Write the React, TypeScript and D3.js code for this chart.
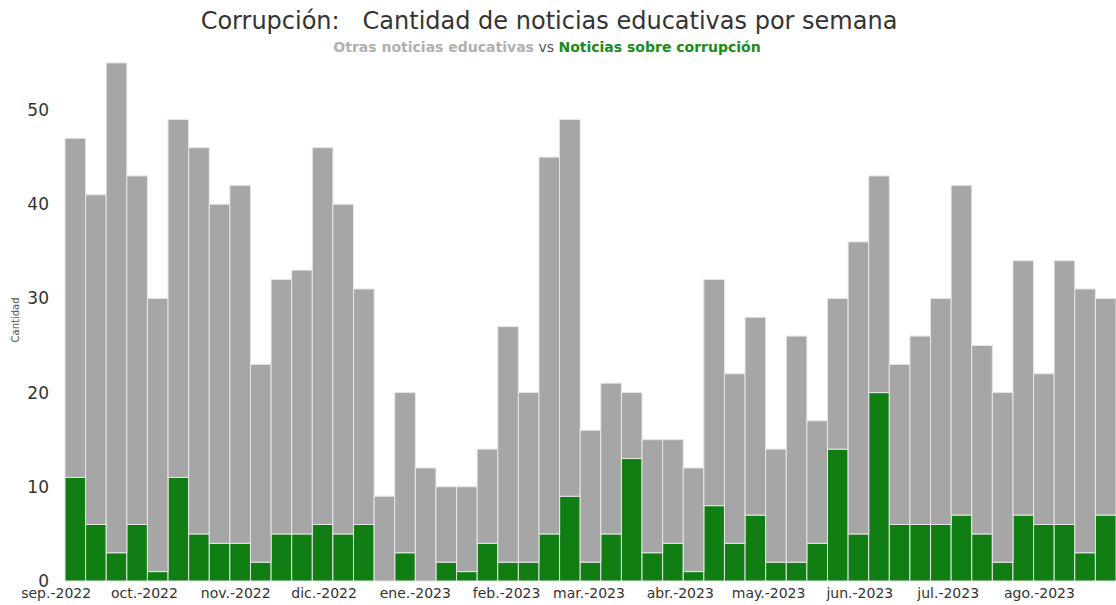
import React from "react";
import * as d3 from "d3";

const firstWeek = new Date(2022, 8, 4);
const weeks: Date[] = d3.timeWeek.range(firstWeek, new Date(2023, 7, 21));
const corrupcion = [11,6,3,6,1,11,5,4,4,2,5,5,6,5,6,0,3,0,2,1,4,2,2,5,9,2,5,13,3,4,1,8,4,7,2,2,4,14,5,20,6,6,6,7,5,2,7,6,6,3,7];
const otras = [36,35,52,37,29,38,41,36,38,21,27,28,40,35,25,9,17,12,8,9,10,25,18,40,40,14,16,7,12,11,11,24,18,21,12,24,13,16,31,23,17,20,24,35,20,18,27,16,28,28,23];
const yTicks = [0, 10, 20, 30, 40, 50];
const monthNames = ["ene.","feb.","mar.","abr.","may.","jun.","jul.","ago.","sep.","oct.","nov.","dic."];
const monthTicks: Date[] = d3.timeMonth.range(new Date(2022, 8, 1), new Date(2023, 8, 1));

const W = 1116, H = 605;
const FONT = "'DejaVu Sans', 'Open Sans', sans-serif";
const GRAY = "#a6a6a6";
const GREEN = "#117e13";

export default function App() {
  const rows = weeks.map((d, i) => ({ date: d, corrupcion: corrupcion[i], otras: otras[i] }));
  const x = d3.scaleTime()
    .domain([firstWeek, d3.timeWeek.offset(weeks[weeks.length - 1], 1)])
    .range([65, 1116]);
  const y = d3.scaleLinear().domain([0, 50]).range([581, 110]);
  const stack = d3.stack<any>().keys(["corrupcion", "otras"]);
  const series = stack(rows);
  const colors: Record<string, string> = { corrupcion: GREEN, otras: GRAY };
  const fmt = (d: Date) => `${monthNames[d.getMonth()]}-${d.getFullYear()}`;

  return (
    <svg width={W} height={H} style={{ position: "absolute", left: 0, top: 0, background: "#fff" }} fontFamily={FONT}>
      <text x={549} y={29} textAnchor="middle" fontSize={24} fill="#333">
        Corrupción:{"\u00a0\u00a0\u00a0"}Cantidad de noticias educativas por semana
      </text>
      <text x={547} y={52} textAnchor="middle" fontSize={14} fontWeight="bold">
        <tspan fill="#b0b0b0">Otras noticias educativas</tspan>
        <tspan fill="#555" fontWeight="normal"> vs </tspan>
        <tspan fill="#1a8c1a">Noticias sobre corrupción</tspan>
      </text>
      <text transform="translate(19,320) rotate(-90)" textAnchor="middle" fontSize={10} fill="#555">Cantidad</text>
      {yTicks.map((t) => (
        <text key={t} x={49} y={y(t)} dy="0.35em" textAnchor="end" fontSize={17} fill="#333">{t}</text>
      ))}
      {series.map((s) => (
        <g key={s.key} fill={colors[s.key]}>
          {s.map((d: any, i: number) => {
            const x0 = x(d.data.date);
            const x1 = x(d3.timeWeek.offset(d.data.date, 1));
            const h = y(d[0]) - y(d[1]);
            if (h <= 0) return null;
            return (
              <rect key={i} x={x0} y={y(d[1])} width={x1 - x0} height={h}
                stroke="#e6e6e6" strokeWidth={1} />
            );
          })}
        </g>
      ))}
      {monthTicks.map((m, i) => (
        <text key={i} x={x(m)} y={598} textAnchor="middle" fontSize={14} fill="#333">{fmt(m)}</text>
      ))}
    </svg>
  );
}
